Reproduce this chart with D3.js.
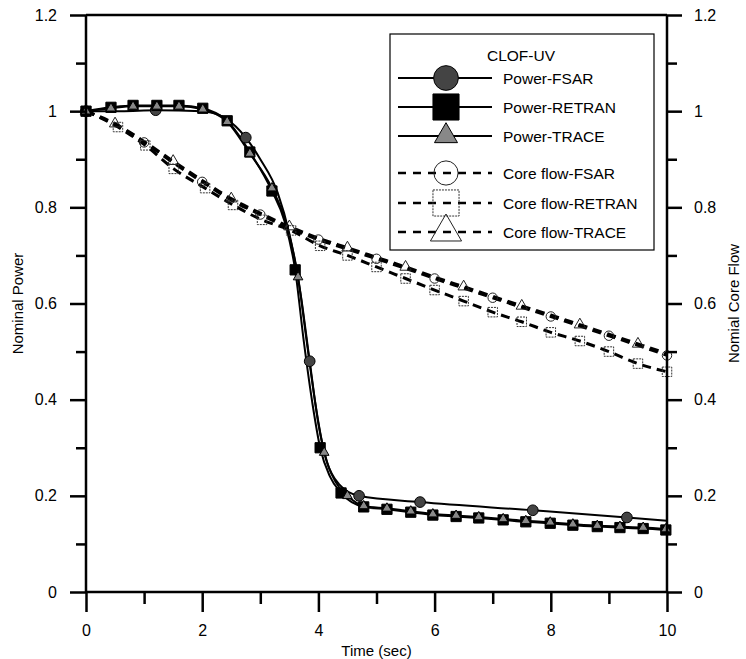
<!DOCTYPE html>
<html>
<head>
<meta charset="utf-8">
<script src="https://cdn.jsdelivr.net/npm/d3@7"></script>
<style>
  body { margin: 0; background: #fff; }
  text { font-family: "Liberation Sans", Arial, Helvetica, sans-serif; fill: #000; }
</style>
</head>
<body>
<svg id="chart" width="746" height="659"></svg>
<script>
// Axis ticks
const xMajorTicks = [0, 2, 4, 6, 8, 10];
const xMinorTicks = [1, 3, 5, 7, 9];
const yMajorTicks = [0, 0.2, 0.4, 0.6, 0.8, 1, 1.2];
const yMinorTicks = [0.1, 0.3, 0.5, 0.7, 0.9, 1.1];

// Each point: [time (s), value, marker shown (1/0)]
const powerFsar = [
  [0, 1.0, 1], [0.6, 1.0, 0], [1.2, 1.002, 1], [2.0, 1.0, 0], [2.4, 0.985, 0],
  [2.75, 0.945, 1], [3.0, 0.9, 0], [3.3, 0.83, 0], [3.5, 0.745, 0], [3.7, 0.615, 0],
  [3.85, 0.48, 1], [4.0, 0.35, 0], [4.15, 0.27, 0], [4.35, 0.225, 0], [4.7, 0.2, 1],
  [5.75, 0.187, 1], [7.69, 0.17, 1], [9.31, 0.155, 1], [10, 0.148, 0]
];
const powerRetran = [
  [0, 1.0, 1], [0.43, 1.008, 1], [0.81, 1.012, 1], [1.22, 1.012, 1], [1.6, 1.012, 1],
  [2.01, 1.006, 1], [2.43, 0.98, 1], [2.82, 0.915, 1], [3.2, 0.834, 1], [3.42, 0.77, 0],
  [3.6, 0.67, 1], [3.75, 0.52, 0], [3.9, 0.39, 0], [4.03, 0.30, 1], [4.2, 0.24, 0],
  [4.39, 0.206, 1], [4.78, 0.177, 1], [5.18, 0.172, 1], [5.59, 0.166, 1], [5.97, 0.160, 1],
  [6.37, 0.157, 1], [6.76, 0.154, 1], [7.18, 0.150, 1], [7.57, 0.146, 1], [7.99, 0.143, 1],
  [8.38, 0.139, 1], [8.8, 0.136, 1], [9.19, 0.134, 1], [9.59, 0.132, 1], [9.98, 0.129, 1]
];
const powerTrace = [
  [0, 1.0, 1], [0.43, 1.006, 1], [0.81, 1.01, 1], [1.22, 1.01, 1], [1.6, 1.01, 1],
  [2.01, 1.004, 1], [2.43, 0.978, 1], [2.82, 0.912, 1], [3.2, 0.84, 1], [3.45, 0.765, 0],
  [3.65, 0.655, 1], [3.8, 0.52, 0], [3.95, 0.39, 0], [4.1, 0.29, 1], [4.3, 0.228, 0],
  [4.5, 0.2, 1], [4.78, 0.179, 1], [5.18, 0.174, 1], [5.59, 0.168, 1], [5.97, 0.162, 1],
  [6.37, 0.159, 1], [6.76, 0.156, 1], [7.18, 0.152, 1], [7.57, 0.148, 1], [7.99, 0.145, 1],
  [8.38, 0.141, 1], [8.8, 0.138, 1], [9.19, 0.136, 1], [9.59, 0.134, 1], [9.98, 0.131, 1]
];
const flowFsar = [
  [0, 1.0, 1], [0.5, 0.972, 0], [1.0, 0.935, 1], [1.5, 0.893, 0], [2.0, 0.853, 1],
  [2.5, 0.815, 0], [3.0, 0.785, 1], [3.5, 0.757, 0], [4.0, 0.733, 1], [4.5, 0.713, 0],
  [5.0, 0.693, 1], [5.5, 0.673, 0], [6.0, 0.652, 1], [6.5, 0.632, 0], [7.0, 0.612, 1],
  [7.5, 0.592, 0], [8.0, 0.573, 1], [8.5, 0.553, 0], [9.0, 0.533, 1], [9.5, 0.513, 0],
  [10, 0.492, 1]
];
const flowRetran = [
  [0, 1.0, 1], [0.55, 0.967, 1], [1.02, 0.929, 1], [1.51, 0.88, 1], [2.05, 0.84, 1],
  [2.53, 0.805, 1], [3.03, 0.774, 1], [3.53, 0.752, 1], [4.03, 0.72, 1], [4.5, 0.70, 1],
  [5.0, 0.676, 1], [5.5, 0.652, 1], [6.0, 0.628, 1], [6.5, 0.605, 1], [7.0, 0.582, 1],
  [7.5, 0.562, 1], [8.0, 0.540, 1], [8.5, 0.522, 1], [9.0, 0.500, 1], [9.5, 0.475, 1],
  [10, 0.458, 1]
];
const flowTrace = [
  [0, 1.0, 1], [0.5, 0.974, 1], [1.0, 0.937, 0], [1.5, 0.896, 1], [2.0, 0.856, 0],
  [2.5, 0.818, 1], [3.0, 0.788, 0], [3.5, 0.76, 1], [4.0, 0.736, 0], [4.5, 0.716, 1],
  [5.0, 0.696, 0], [5.5, 0.676, 1], [6.0, 0.655, 0], [6.5, 0.635, 1], [7.0, 0.615, 0],
  [7.5, 0.595, 1], [8.0, 0.576, 0], [8.5, 0.556, 1], [9.0, 0.536, 0], [9.5, 0.516, 1],
  [10, 0.496, 0]
];

const seriesNames = ["Power-FSAR", "Power-RETRAN", "Power-TRACE",
                     "Core flow-FSAR", "Core flow-RETRAN", "Core flow-TRACE"];
const legendTitle = "CLOF-UV";

const svg = d3.select("#chart");
const x = d3.scaleLinear().domain([0, 10]).range([86, 667]);
const y = d3.scaleLinear().domain([0, 1.2]).range([592, 15]);

// Marker shapes
const symbolFor = {
  circle: d3.symbolCircle, square: d3.symbolSquare, triangle: d3.symbolTriangle
};
const series = [
  { name: seriesNames[3], data: flowFsar, dashed: true, shape: "circle", size: 70, fill: "none", stroke: "#222", sw: 1 },
  { name: seriesNames[5], data: flowTrace, dashed: true, shape: "triangle", size: 55, fill: "none", stroke: "#222", sw: 1 },
  { name: seriesNames[4], data: flowRetran, dashed: true, shape: "square", size: 90, fill: "none", stroke: "#333", sw: 1, dash: "2,1" },
  { name: seriesNames[0], data: powerFsar, dashed: false, shape: "circle", size: 90, fill: "#444", stroke: "#000", sw: 1 },
  { name: seriesNames[1], data: powerRetran, dashed: false, shape: "square", size: 105, fill: "#000", stroke: "#000", sw: 1 },
  { name: seriesNames[2], data: powerTrace, dashed: false, shape: "triangle", size: 40, fill: "#888", stroke: "#000", sw: 1 }
];

const line = d3.line()
  .x(d => x(d[0]))
  .y(d => y(d[1]))
  .curve(d3.curveMonotoneX);

const plot = svg.append("g");
series.forEach(s => {
  plot.append("path")
    .datum(s.data)
    .attr("fill", "none")
    .attr("stroke", "#000")
    .attr("stroke-width", s.dashed ? 3 : 2)
    .attr("stroke-dasharray", s.dashed ? "9,6" : null)
    .attr("d", line);
});
series.forEach(s => {
  plot.append("g").selectAll("path")
    .data(s.data.filter(d => d[2] === 1))
    .join("path")
    .attr("transform", d => `translate(${x(d[0])},${y(d[1])})`)
    .attr("d", d3.symbol().type(symbolFor[s.shape]).size(s.size))
    .attr("fill", s.fill)
    .attr("stroke", s.stroke)
    .attr("stroke-width", s.sw)
    .attr("stroke-dasharray", s.dash || null);
});

// Axes
function styleAxis(g) {
  g.select(".domain").remove();
  g.selectAll(".tick line").attr("stroke", "#000").attr("stroke-width", 2.5);
  g.selectAll(".tick text").attr("font-size", 16).attr("fill", "#000")
    .attr("font-family", "'Liberation Sans', Arial, sans-serif");
}
svg.append("g").attr("transform", "translate(86,0)")
  .call(d3.axisLeft(y).tickValues(yMajorTicks).tickFormat(d3.format("~g")).tickSize(16).tickPadding(13))
  .call(styleAxis);
svg.append("g").attr("transform", "translate(86,0)")
  .call(d3.axisLeft(y).tickValues(yMinorTicks).tickFormat("").tickSize(10))
  .call(styleAxis);
svg.append("g").attr("transform", "translate(667,0)")
  .call(d3.axisRight(y).tickValues(yMajorTicks).tickFormat(d3.format("~g")).tickSize(15).tickPadding(12))
  .call(styleAxis);
svg.append("g").attr("transform", "translate(667,0)")
  .call(d3.axisRight(y).tickValues(yMinorTicks).tickFormat("").tickSize(10))
  .call(styleAxis);
svg.append("g").attr("transform", "translate(0,592)")
  .call(d3.axisBottom(x).tickValues(xMajorTicks).tickFormat(d3.format("~g")).tickSize(20).tickPadding(13))
  .call(styleAxis);
svg.append("g").attr("transform", "translate(0,592)")
  .call(d3.axisBottom(x).tickValues(xMinorTicks).tickFormat("").tickSize(12))
  .call(styleAxis);

// Frame lines
const frame = svg.append("g").attr("stroke", "#000").attr("stroke-width", 2.5);
frame.append("line").attr("x1", x(0)).attr("x2", x(0)).attr("y1", y(1.2)).attr("y2", y(0));
frame.append("line").attr("x1", x(10)).attr("x2", x(10)).attr("y1", y(1.2)).attr("y2", y(0));
frame.append("line").attr("x1", x(0)).attr("x2", x(10)).attr("y1", y(0)).attr("y2", y(0));
frame.append("line").attr("x1", x(0)).attr("x2", x(10)).attr("y1", y(1.2)).attr("y2", y(1.2));

// Axis titles
svg.append("text").attr("x", x(5)).attr("y", 656).attr("text-anchor", "middle")
  .attr("font-size", 15).text("Time (sec)");
svg.append("text").attr("transform", `translate(23,${y(0.6)}) rotate(-90)`)
  .attr("text-anchor", "middle").attr("font-size", 15).text("Nominal Power");
svg.append("text").attr("transform", `translate(739,${y(0.6)}) rotate(-90)`)
  .attr("text-anchor", "middle").attr("font-size", 15).text("Nomial Core Flow");

// Legend
const legend = svg.append("g");
legend.append("rect").attr("x", 390).attr("y", 34).attr("width", 264).attr("height", 216)
  .attr("fill", "#fff").attr("stroke", "#000").attr("stroke-width", 1.2);
legend.append("text").attr("x", 521).attr("y", 61).attr("text-anchor", "middle")
  .attr("font-size", 15.5).text(legendTitle);
const legendRows = [
  { s: series[3], yy: 78, size: 480 },
  { s: series[4], yy: 107, size: 680 },
  { s: series[5], yy: 136, size: 230 },
  { s: series[0], yy: 173, size: 460 },
  { s: series[2], yy: 203, size: 680 },
  { s: series[1], yy: 232, size: 420 }
];
legendRows.forEach(r => {
  const g = legend.append("g");
  g.append("line").attr("x1", 398).attr("x2", 492).attr("y1", r.yy).attr("y2", r.yy)
    .attr("stroke", "#000").attr("stroke-width", r.s.dashed ? 2.5 : 2)
    .attr("stroke-dasharray", r.s.dashed ? "8,7" : null);
  g.append("path")
    .attr("transform", `translate(446,${r.yy})`)
    .attr("d", d3.symbol().type(symbolFor[r.s.shape]).size(r.size))
    .attr("fill", r.s.fill)
    .attr("stroke", r.s.stroke).attr("stroke-width", r.s.sw)
    .attr("stroke-dasharray", r.s.dash || null);
  g.append("text").attr("x", 503).attr("y", r.yy + 5.5).attr("font-size", 15.5).text(r.s.name);
});
</script>
</body>
</html>
